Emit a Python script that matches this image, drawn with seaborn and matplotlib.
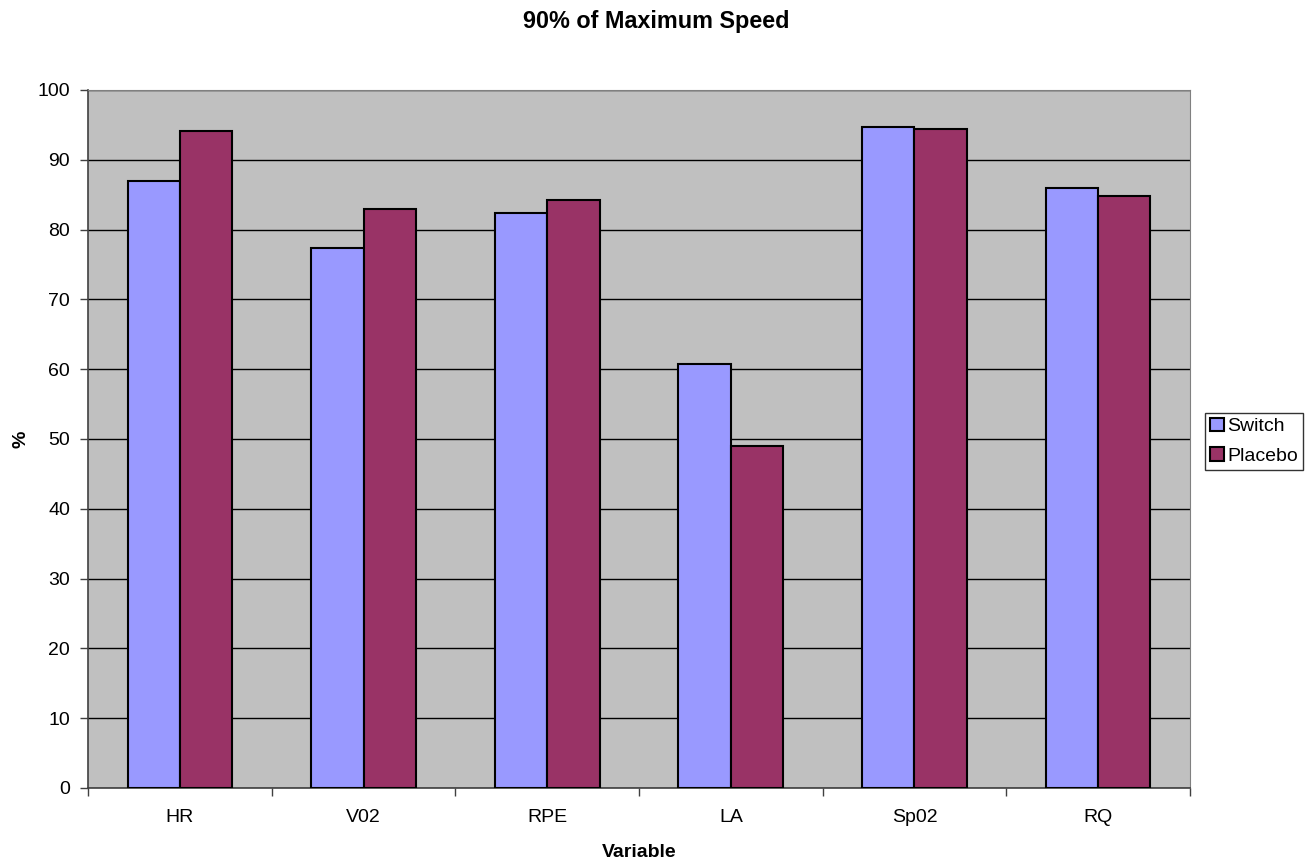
import numpy as np
import pandas as pd
import matplotlib
matplotlib.use("Agg")
import matplotlib.pyplot as plt
import seaborn as sns

variables = ["HR", "V02", "RPE", "LA", "Sp02", "RQ"]
switch = [87.0, 77.4, 82.4, 60.7, 94.7, 86.0]
placebo = [94.1, 83.0, 84.2, 49.0, 94.4, 84.8]

df = pd.DataFrame({
    "Variable": variables * 2,
    "value": switch + placebo,
    "group": ["Switch"] * 6 + ["Placebo"] * 6,
})

sns.set_style("white")
plt.rcParams["font.family"] = ["Liberation Sans", "DejaVu Sans"]
plt.rcParams["text.color"] = "black"
plt.rcParams["axes.labelcolor"] = "black"
plt.rcParams["xtick.color"] = "black"
plt.rcParams["ytick.color"] = "black"

fig = plt.figure(figsize=(13.12, 8.61), dpi=100)
ax = fig.add_axes([0.0671, 0.0848, 0.8399, 0.8107])
ax.set_facecolor("#c0c0c0")

sns.barplot(data=df, x="Variable", y="value", hue="group", ax=ax,
            palette=["#9999ff", "#993366"], width=0.57,
            edgecolor="black", linewidth=1.5, saturation=1, zorder=3)

ax.set_ylim(0, 100)
ax.set_xlim(-0.5, 5.5)
ax.set_yticks(np.arange(0, 101, 10))
ax.yaxis.grid(True, color="black", linewidth=1, zorder=0)
ax.set_axisbelow(True)

# ticks between categories, like the original
ax.set_xticks(np.arange(-0.5, 6, 1), minor=True)
ax.tick_params(axis="x", which="major", length=0, labelsize=14, pad=15)
ax.tick_params(axis="x", which="minor", length=6, width=1, color="#404040",
               direction="out", bottom=True)
ax.tick_params(axis="y", length=6, width=1, color="#404040", direction="out",
               labelsize=14, left=True, labelcolor="black", pad=7)

for s in ["top", "right"]:
    ax.spines[s].set_color("#808080")
for s in ["left", "bottom"]:
    ax.spines[s].set_color("#404040")
    ax.spines[s].set_linewidth(1.2)

ax.set_xlabel("Variable", fontsize=14, fontweight="bold", labelpad=13)
ax.set_ylabel("%", fontsize=14, fontweight="bold", labelpad=6)
fig.suptitle("90% of Maximum Speed", fontsize=16.8, fontweight="bold", y=0.988)

leg = ax.legend(loc="center left", bbox_to_anchor=(0.9185, 0.4875),
                bbox_transform=fig.transFigure, frameon=True, fancybox=False,
                edgecolor="black", fontsize=14, handlelength=0.7, handleheight=0.7,
                handletextpad=0.2, borderpad=0.25, labelspacing=0.6, borderaxespad=0)
leg.get_frame().set_linewidth(1)

fig.savefig("out.png", dpi=100, facecolor="white")
